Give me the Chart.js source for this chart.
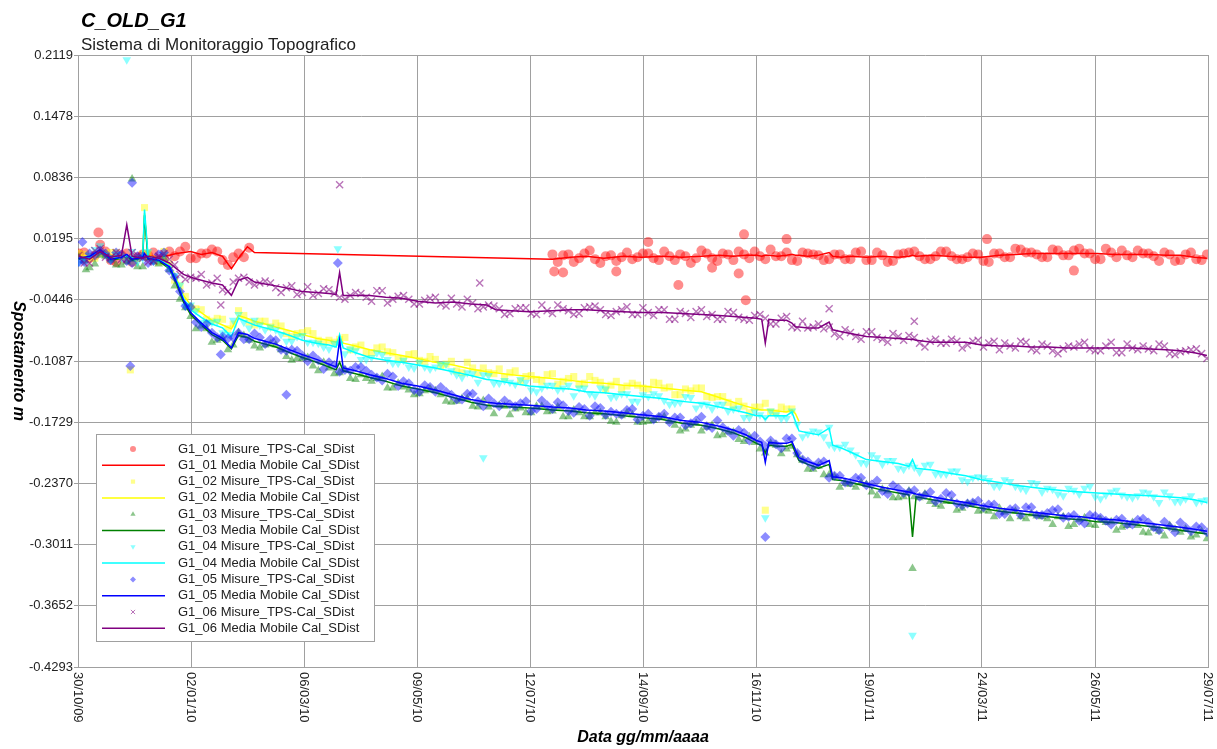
<!DOCTYPE html>
<html>
<head>
<meta charset="utf-8">
<title>C_OLD_G1</title>
<script src="https://cdn.jsdelivr.net/npm/chart.js@4.4.0/dist/chart.umd.min.js"></script>
<style>
  html, body { margin: 0; padding: 0; background: #fff; }
  canvas { display: block; }
</style>
</head>
<body>
<canvas id="grafico" width="1217" height="749"></canvas>
<script>
var titolo = 'C_OLD_G1';
var sottotitolo = 'Sistema di Monitoraggio Topografico';
var titoloAsseY = 'Spostamento m';
var titoloAsseX = 'Data gg/mm/aaaa';

// giorno 0 = 30/10/09
var dataInizio = Date.UTC(2009, 9, 30);
var giornoMin = 0.5, giornoMax = 637.6;

var etichetteY = ['-0.4293', '-0.3652', '-0.3011', '-0.2370', '-0.1729', '-0.1087',
                  '-0.0446', '0.0195', '0.0836', '0.1478', '0.2119'];

// media mobile (giorni dall'inizio)
var giorniMedia = [1, 7, 13, 19, 25, 28, 31, 37, 38, 40,
  46, 52, 56, 60, 64, 70, 76, 82, 87, 91,
  96, 100, 106, 112, 120, 127, 135, 142, 146, 148,
  150, 157, 165, 174, 183, 192, 202, 212, 222, 231,
  236, 245, 255, 268, 278, 287, 297, 308, 318, 330,
  341, 352, 362, 370, 377, 383, 386, 388, 390, 395,
  400, 403, 405, 407, 412, 418, 424, 426, 431, 436,
  445, 454, 463, 469, 471, 473, 482, 491, 501, 510,
  520, 529, 538, 548, 558, 566, 575, 585, 595, 605,
  614, 622, 630, 637];

var media01 = [0.001, -0.001, 0.008, 0.002, 0.000, 0.002, -0.001, 0.001, 0.000, 0.002,
  0.000, 0.002, 0.004, 0.005, 0.006, 0.003, 0.005, 0.001, -0.012, -0.001,
  0.011, 0.005, null, null, null, null, null, null, null, null,
  null, null, null, null, null, null, null, null, null, null,
  null, null, null, -0.002, 0.000, 0.001, -0.001, 0.001, 0.000, 0.001,
  0.000, 0.001, 0.002, 0.001, 0.002, 0.002, 0.001, 0.002, 0.002, 0.001,
  0.002, 0.003, 0.002, 0.002, 0.001, 0.002, 0.005, 0.001, 0.000, 0.001,
  0.000, 0.001, 0.000, 0.001, 0.002, 0.001, 0.002, 0.001, 0.000, 0.000,
  0.002, 0.003, 0.004, 0.004, 0.004, 0.004, 0.004, 0.003, 0.003, 0.003,
  0.002, 0.002, 0.000, -0.001];

var media02 = [0.000, 0.002, 0.007, -0.001, 0.001, 0.000, -0.002, 0.001, 0.046, 0.000,
  -0.001, -0.008, -0.022, -0.040, -0.050, -0.058, -0.066, -0.071, -0.075, -0.061,
  -0.064, -0.067, -0.070, -0.073, -0.077, -0.081, -0.085, -0.087, -0.089, -0.085,
  -0.090, -0.093, -0.097, -0.100, -0.103, -0.106, -0.110, -0.113, -0.117, -0.120,
  -0.121, -0.123, -0.125, -0.127, -0.129, -0.131, -0.132, -0.134, -0.135, -0.137,
  -0.139, -0.141, -0.147, -0.152, -0.156, -0.159, -0.160, -0.160, -0.160, -0.161,
  -0.162, -0.160, -0.164, -0.172, null, null, null, null, null, null,
  null, null, null, null, null, null, null, null, null, null,
  null, null, null, null, null, null, null, null, null, null,
  null, null, null, null];

var media03 = [-0.002, 0.000, 0.006, -0.003, -0.001, 0.001, -0.003, -0.001, 0.044, -0.002,
  -0.004, -0.012, -0.028, -0.047, -0.060, -0.071, -0.081, -0.087, -0.096, -0.082,
  -0.084, -0.088, -0.091, -0.094, -0.100, -0.105, -0.110, -0.115, -0.118, -0.110,
  -0.119, -0.122, -0.126, -0.130, -0.135, -0.138, -0.142, -0.147, -0.152, -0.155,
  -0.156, -0.157, -0.158, -0.160, -0.161, -0.163, -0.164, -0.166, -0.168, -0.170,
  -0.174, -0.176, -0.180, -0.184, -0.189, -0.195, -0.197, -0.205, -0.197, -0.198,
  -0.198, -0.196, -0.205, -0.213, -0.217, -0.221, -0.217, -0.233, -0.234, -0.236,
  -0.240, -0.244, -0.247, -0.249, -0.293, -0.251, -0.254, -0.257, -0.260, -0.263,
  -0.266, -0.268, -0.270, -0.272, -0.274, -0.275, -0.277, -0.278, -0.280, -0.282,
  -0.284, -0.286, -0.288, -0.290];

var media04 = [0.000, -0.001, 0.008, 0.001, -0.001, 0.002, 0.000, 0.002, 0.050, 0.001,
  -0.002, -0.009, -0.024, -0.043, -0.055, -0.063, -0.070, -0.074, -0.083, -0.064,
  -0.068, -0.071, -0.074, -0.077, -0.082, -0.087, -0.090, -0.092, -0.094, -0.081,
  -0.095, -0.100, -0.105, -0.108, -0.110, -0.113, -0.116, -0.120, -0.124, -0.128,
  -0.129, -0.132, -0.135, -0.137, -0.138, -0.141, -0.142, -0.144, -0.146, -0.148,
  -0.151, -0.153, -0.157, -0.160, -0.163, -0.166, -0.166, -0.170, -0.166, -0.166,
  -0.166, -0.162, -0.172, -0.182, -0.184, -0.186, -0.179, -0.197, -0.200, -0.204,
  -0.212, -0.214, -0.216, -0.219, -0.212, -0.221, -0.223, -0.226, -0.229, -0.233,
  -0.236, -0.239, -0.241, -0.243, -0.245, -0.246, -0.247, -0.248, -0.249, -0.250,
  -0.251, -0.252, -0.254, -0.257];

var media05 = [-0.001, 0.001, 0.008, -0.002, 0.000, 0.003, -0.002, 0.000, 0.004, -0.001,
  -0.003, -0.010, -0.026, -0.045, -0.058, -0.069, -0.079, -0.085, -0.095, -0.079,
  -0.081, -0.085, -0.088, -0.091, -0.097, -0.102, -0.107, -0.112, -0.115, -0.087,
  -0.116, -0.119, -0.123, -0.127, -0.132, -0.135, -0.139, -0.144, -0.149, -0.152,
  -0.153, -0.154, -0.155, -0.157, -0.158, -0.160, -0.161, -0.163, -0.165, -0.167,
  -0.171, -0.173, -0.177, -0.181, -0.186, -0.192, -0.194, -0.215, -0.194, -0.195,
  -0.195, -0.193, -0.202, -0.210, -0.214, -0.218, -0.213, -0.230, -0.231, -0.233,
  -0.237, -0.241, -0.244, -0.246, -0.247, -0.248, -0.251, -0.254, -0.257, -0.260,
  -0.263, -0.265, -0.267, -0.269, -0.271, -0.272, -0.274, -0.275, -0.277, -0.279,
  -0.281, -0.283, -0.285, -0.287];

var media06 = [0.001, -0.002, 0.006, 0.000, 0.002, 0.034, 0.001, -0.001, 0.000, 0.001,
  -0.001, -0.006, -0.012, -0.018, -0.021, -0.024, -0.027, -0.029, -0.040, -0.024,
  -0.021, -0.026, -0.028, -0.030, -0.033, -0.036, -0.037, -0.038, -0.039, -0.016,
  -0.040, -0.040, -0.040, -0.042, -0.043, -0.046, -0.048, -0.047, -0.049, -0.050,
  -0.055, -0.056, -0.057, -0.056, -0.055, -0.055, -0.056, -0.057, -0.058, -0.058,
  -0.059, -0.060, -0.061, -0.062, -0.063, -0.064, -0.065, -0.090, -0.065, -0.066,
  -0.066, -0.069, -0.073, -0.073, -0.074, -0.074, -0.068, -0.076, -0.078, -0.080,
  -0.083, -0.084, -0.085, -0.086, -0.086, -0.087, -0.089, -0.089, -0.089, -0.092,
  -0.093, -0.093, -0.094, -0.094, -0.095, -0.095, -0.095, -0.095, -0.095, -0.096,
  -0.097, -0.098, -0.100, -0.103];

// misure TPS, prima serie di giorni
var giorniMisure = [1, 7, 13, 19, 25, 31, 37, 43, 49, 55,
  61, 67, 73, 79, 85, 91, 97, 103, 109, 115,
  121, 127, 133, 139, 145, 151, 157, 163, 169, 175,
  181, 187, 193, 199, 205, 211, 217, 223, 229, 235,
  241, 247, 253, 259, 265, 271, 277, 283, 289, 295,
  301, 307, 313, 319, 325, 331, 337, 343, 349, 355,
  361, 367, 373, 379, 385, 391, 397, 403, 409, 415,
  421, 427, 433, 439, 445, 451, 457, 463, 469, 475,
  481, 487, 493, 499, 505, 511, 517, 523, 529, 535,
  541, 547, 553, 559, 565, 571, 577, 583, 589, 595,
  601, 607, 613, 619, 625, 631, 637];

var misure01 = [0.004, -0.001, 0.013, -0.003, 0.002, -0.005, 0.003, 0.005, 0.000, 0.001,
  0.011, -0.001, 0.004, 0.006, -0.008, 0.004, 0.010, null, null, null,
  null, null, null, null, null, null, null, null, null, null,
  null, null, null, null, null, null, null, null, null, null,
  null, null, null, null, null, -0.005, 0.003, -0.001, 0.007, -0.006,
  0.002, 0.000, -0.002, 0.004, -0.001, 0.006, -0.003, 0.001, -0.001, 0.004,
  -0.004, 0.003, 0.006, -0.001, 0.001, 0.008, 0.001, -0.003, 0.005, 0.003,
  -0.003, 0.003, -0.002, 0.005, -0.003, 0.005, -0.005, 0.003, 0.005, 0.001,
  -0.002, 0.006, 0.001, -0.002, 0.004, -0.004, 0.004, 0.000, 0.009, 0.005,
  0.003, 0.000, 0.007, 0.002, 0.009, 0.004, -0.002, 0.005, 0.007, 0.000,
  0.004, 0.001, 0.005, -0.004, 0.003, -0.002, 0.003];

var misure02 = [0.004, -0.001, 0.004, 0.005, 0.001, -0.004, 0.003, -0.002, 0.006, -0.024,
  -0.041, -0.054, -0.065, -0.064, -0.075, -0.056, -0.068, -0.067, -0.073, -0.072,
  -0.083, -0.079, -0.080, -0.089, -0.089, -0.084, -0.094, -0.100, -0.095, -0.099,
  -0.107, -0.102, -0.108, -0.104, -0.114, -0.109, -0.121, -0.116, -0.116, -0.122,
  -0.126, -0.119, -0.125, -0.128, -0.123, -0.133, -0.127, -0.133, -0.125, -0.131,
  -0.134, -0.138, -0.132, -0.137, -0.131, -0.137, -0.144, -0.138, -0.137, -0.146,
  -0.146, -0.152, -0.151, -0.163, -0.157, -0.162, -0.157, -0.159, null, null,
  null, null, null, null, null, null, null, null, null, null,
  null, null, null, null, null, null, null, null, null, null,
  null, null, null, null, null, null, null, null, null, null,
  null, null, null, null, null, null, null];

var misure03 = [0.000, -0.011, 0.002, -0.003, -0.008, -0.002, -0.010, -0.005, -0.001, -0.030,
  -0.053, -0.075, -0.075, -0.087, -0.097, -0.079, -0.087, -0.095, -0.091, -0.097,
  -0.108, -0.106, -0.114, -0.110, -0.122, -0.118, -0.128, -0.127, -0.127, -0.137,
  -0.132, -0.139, -0.143, -0.138, -0.144, -0.152, -0.148, -0.156, -0.150, -0.164,
  -0.156, -0.159, -0.163, -0.156, -0.162, -0.157, -0.167, -0.163, -0.167, -0.163,
  -0.172, -0.166, -0.165, -0.173, -0.171, -0.167, -0.176, -0.180, -0.174, -0.178,
  -0.187, -0.183, -0.191, -0.188, -0.201, -0.195, -0.206, -0.198, -0.213, -0.222,
  -0.228, -0.230, -0.237, -0.241, -0.238, -0.250, -0.245, -0.252, -0.245, -0.252,
  -0.256, -0.261, -0.256, -0.263, -0.258, -0.265, -0.272, -0.267, -0.266, -0.274,
  -0.271, -0.274, -0.272, -0.282, -0.275, -0.280, -0.275, -0.277, -0.283, -0.278,
  -0.288, -0.284, -0.292, -0.285, -0.285, -0.291, -0.295];

var misure04 = [-0.005, 0.002, 0.012, -0.003, 0.000, 0.006, -0.001, -0.004, 0.003, -0.019,
  -0.051, -0.056, -0.068, -0.067, -0.081, -0.060, -0.074, -0.071, -0.073, -0.081,
  -0.088, -0.082, -0.089, -0.094, -0.090, -0.101, -0.098, -0.107, -0.100, -0.107,
  -0.111, -0.115, -0.110, -0.117, -0.112, -0.119, -0.126, -0.122, -0.123, -0.132,
  -0.129, -0.133, -0.131, -0.141, -0.134, -0.139, -0.134, -0.137, -0.143, -0.137,
  -0.147, -0.143, -0.151, -0.144, -0.143, -0.150, -0.153, -0.146, -0.158, -0.154,
  -0.154, -0.161, -0.158, -0.168, -0.165, -0.161, -0.169, -0.161, -0.188, -0.182,
  -0.188, -0.199, -0.196, -0.207, -0.216, -0.210, -0.213, -0.221, -0.218, -0.225,
  -0.217, -0.227, -0.224, -0.233, -0.231, -0.231, -0.240, -0.233, -0.240, -0.244,
  -0.237, -0.242, -0.248, -0.242, -0.248, -0.240, -0.253, -0.246, -0.249, -0.252,
  -0.246, -0.251, -0.246, -0.256, -0.253, -0.257, -0.254];

var misure05 = [-0.005, 0.004, 0.007, -0.003, 0.003, -0.006, 0.001, -0.004, 0.005, -0.021,
  -0.051, -0.068, -0.070, -0.084, -0.085, -0.079, -0.086, -0.084, -0.086, -0.097,
  -0.097, -0.103, -0.103, -0.117, -0.113, -0.118, -0.115, -0.119, -0.126, -0.122,
  -0.135, -0.132, -0.141, -0.136, -0.136, -0.144, -0.149, -0.143, -0.156, -0.153,
  -0.150, -0.156, -0.151, -0.159, -0.155, -0.152, -0.161, -0.157, -0.166, -0.158,
  -0.162, -0.165, -0.159, -0.166, -0.170, -0.164, -0.168, -0.176, -0.171, -0.177,
  -0.171, -0.182, -0.181, -0.192, -0.193, -0.192, -0.200, -0.190, -0.212, -0.219,
  -0.214, -0.229, -0.236, -0.231, -0.239, -0.234, -0.248, -0.242, -0.246, -0.251,
  -0.246, -0.253, -0.249, -0.260, -0.257, -0.262, -0.259, -0.269, -0.263, -0.262,
  -0.270, -0.268, -0.264, -0.272, -0.276, -0.270, -0.273, -0.280, -0.274, -0.280,
  -0.274, -0.283, -0.277, -0.288, -0.283, -0.282, -0.288];

var misure06 = [0.002, -0.006, 0.009, 0.000, -0.002, 0.005, -0.001, -0.004, 0.004, -0.008,
  -0.023, -0.022, -0.029, -0.022, -0.036, -0.022, -0.026, -0.027, -0.027, -0.037,
  -0.030, -0.037, -0.040, -0.033, -0.038, -0.044, -0.037, -0.042, -0.035, -0.048,
  -0.041, -0.044, -0.049, -0.043, -0.049, -0.043, -0.052, -0.048, -0.052, -0.051,
  -0.060, -0.054, -0.053, -0.060, -0.056, -0.050, -0.056, -0.059, -0.052, -0.055,
  -0.061, -0.055, -0.060, -0.053, -0.061, -0.055, -0.065, -0.059, -0.057, -0.062,
  -0.065, -0.057, -0.063, -0.066, -0.060, -0.070, -0.064, -0.073, -0.067, -0.073,
  -0.075, -0.080, -0.076, -0.083, -0.078, -0.084, -0.089, -0.083, -0.082, -0.090,
  -0.088, -0.090, -0.086, -0.095, -0.088, -0.094, -0.088, -0.090, -0.095, -0.089,
  -0.098, -0.093, -0.101, -0.093, -0.091, -0.096, -0.098, -0.089, -0.100, -0.095,
  -0.093, -0.098, -0.093, -0.102, -0.098, -0.096, -0.106];

// misure TPS, seconda serie di giorni
var giorniMisureB = [4, 10, 16, 22, 28, 34, 40, 46, 52, 58,
  64, 70, 76, 82, 88, 94, 100, 106, 112, 118,
  124, 130, 136, 142, 148, 154, 160, 166, 172, 178,
  184, 190, 196, 202, 208, 214, 220, 226, 232, 238,
  244, 250, 256, 262, 268, 274, 280, 286, 292, 298,
  304, 310, 316, 322, 328, 334, 340, 346, 352, 358,
  364, 370, 376, 382, 388, 394, 400, 406, 412, 418,
  424, 430, 436, 442, 448, 454, 460, 466, 472, 478,
  484, 490, 496, 502, 508, 514, 520, 526, 532, 538,
  544, 550, 556, 562, 568, 574, 580, 586, 592, 598,
  604, 610, 616, 622, 628, 634];

var misure01b = [0.005, 0.002, 0.006, -0.005, 0.004, 0.000, 0.002, -0.002, 0.006, 0.006,
  -0.001, 0.004, 0.008, -0.003, 0.000, 0.000, null, null, null, null,
  null, null, null, null, null, null, null, null, null, null,
  null, null, null, null, null, null, null, null, null, null,
  null, null, null, null, 0.003, 0.002, -0.005, 0.004, -0.002, 0.001,
  -0.004, 0.005, 0.000, 0.004, -0.003, 0.001, 0.003, -0.006, 0.007, -0.001,
  0.004, -0.003, 0.003, 0.006, -0.002, 0.001, 0.005, -0.004, 0.004, 0.002,
  -0.002, 0.003, -0.002, 0.006, -0.003, 0.002, -0.004, 0.004, 0.006, -0.002,
  0.001, 0.006, -0.002, 0.000, 0.003, -0.005, 0.004, 0.000, 0.008, 0.005,
  0.000, 0.008, 0.002, 0.007, 0.004, -0.002, 0.009, 0.000, 0.002, 0.007,
  0.004, -0.004, 0.003, -0.003, 0.005, -0.003];

var misure02b = [0.003, -0.001, 0.004, 0.005, -0.003, -0.001, 0.004, -0.005, -0.007, -0.030,
  -0.052, -0.055, -0.067, -0.065, -0.070, -0.061, -0.071, -0.067, -0.069, -0.080,
  -0.080, -0.077, -0.087, -0.087, -0.086, -0.097, -0.092, -0.100, -0.094, -0.100,
  -0.107, -0.101, -0.109, -0.107, -0.112, -0.119, -0.110, -0.121, -0.121, -0.117,
  -0.121, -0.130, -0.124, -0.130, -0.122, -0.130, -0.125, -0.132, -0.129, -0.138,
  -0.130, -0.135, -0.134, -0.138, -0.132, -0.136, -0.144, -0.140, -0.137, -0.147,
  -0.146, -0.156, -0.156, -0.157, -0.153, -0.163, -0.159, null, null, null,
  null, null, null, null, null, null, null, null, null, null,
  null, null, null, null, null, null, null, null, null, null,
  null, null, null, null, null, null, null, null, null, null,
  null, null, null, null, null, null];

var misure03b = [-0.004, -0.007, 0.001, -0.008, -0.005, -0.010, -0.001, -0.007, -0.013, -0.044,
  -0.062, -0.072, -0.089, -0.085, -0.092, -0.082, -0.093, -0.092, -0.092, -0.104,
  -0.106, -0.105, -0.119, -0.116, -0.121, -0.127, -0.123, -0.130, -0.125, -0.137,
  -0.136, -0.144, -0.140, -0.140, -0.151, -0.151, -0.148, -0.157, -0.157, -0.155,
  -0.165, -0.158, -0.163, -0.156, -0.161, -0.167, -0.160, -0.167, -0.163, -0.167,
  -0.173, -0.163, -0.173, -0.172, -0.168, -0.172, -0.182, -0.176, -0.182, -0.176,
  -0.186, -0.183, -0.193, -0.194, -0.205, -0.197, -0.201, -0.207, -0.222, -0.219,
  -0.228, -0.241, -0.238, -0.236, -0.246, -0.243, -0.252, -0.251, -0.251, -0.248,
  -0.259, -0.256, -0.265, -0.258, -0.266, -0.266, -0.263, -0.274, -0.272, -0.269,
  -0.272, -0.280, -0.272, -0.280, -0.273, -0.281, -0.278, -0.286, -0.281, -0.281,
  -0.289, -0.287, -0.281, -0.288, -0.293, -0.287];

var misure04b = [-0.004, 0.008, 0.002, 0.003, 0.000, -0.005, 0.006, -0.003, -0.011, -0.029,
  -0.050, -0.068, -0.068, -0.079, -0.066, -0.068, -0.066, -0.076, -0.076, -0.088,
  -0.083, -0.089, -0.090, -0.096, -0.091, -0.096, -0.107, -0.105, -0.102, -0.111,
  -0.108, -0.116, -0.115, -0.115, -0.112, -0.123, -0.121, -0.131, -0.124, -0.132,
  -0.131, -0.128, -0.139, -0.137, -0.134, -0.137, -0.145, -0.137, -0.145, -0.138,
  -0.146, -0.143, -0.151, -0.146, -0.145, -0.154, -0.152, -0.147, -0.154, -0.159,
  -0.154, -0.159, -0.168, -0.162, -0.168, -0.165, -0.169, -0.175, -0.185, -0.183,
  -0.196, -0.199, -0.202, -0.215, -0.207, -0.217, -0.213, -0.222, -0.220, -0.218,
  -0.227, -0.227, -0.224, -0.235, -0.230, -0.234, -0.240, -0.235, -0.242, -0.236,
  -0.246, -0.243, -0.250, -0.244, -0.242, -0.251, -0.249, -0.244, -0.251, -0.250,
  -0.247, -0.257, -0.250, -0.256, -0.250, -0.255];

var misure05b = [-0.005, 0.002, 0.004, 0.005, -0.004, 0.001, -0.006, 0.003, -0.014, -0.036,
  -0.052, -0.073, -0.079, -0.083, -0.084, -0.086, -0.080, -0.091, -0.087, -0.098,
  -0.098, -0.109, -0.108, -0.110, -0.120, -0.119, -0.115, -0.123, -0.129, -0.125,
  -0.130, -0.139, -0.134, -0.141, -0.141, -0.149, -0.143, -0.151, -0.148, -0.156,
  -0.154, -0.153, -0.161, -0.150, -0.159, -0.155, -0.163, -0.159, -0.156, -0.165,
  -0.164, -0.160, -0.170, -0.164, -0.167, -0.173, -0.168, -0.174, -0.167, -0.179,
  -0.178, -0.187, -0.184, -0.187, -0.198, -0.196, -0.190, -0.205, -0.214, -0.215,
  -0.231, -0.229, -0.236, -0.231, -0.238, -0.245, -0.239, -0.247, -0.244, -0.249,
  -0.256, -0.247, -0.258, -0.258, -0.255, -0.259, -0.269, -0.264, -0.270, -0.262,
  -0.270, -0.265, -0.273, -0.270, -0.279, -0.271, -0.276, -0.275, -0.280, -0.275,
  -0.278, -0.286, -0.282, -0.278, -0.287, -0.283];

var misure06b = [-0.006, 0.007, 0.000, 0.005, -0.002, 0.002, -0.005, 0.001, -0.002, -0.018,
  -0.021, -0.018, -0.027, -0.034, -0.026, -0.021, -0.029, -0.025, -0.032, -0.032,
  -0.039, -0.031, -0.038, -0.034, -0.042, -0.040, -0.038, -0.046, -0.035, -0.044,
  -0.040, -0.049, -0.045, -0.042, -0.051, -0.049, -0.044, -0.054, -0.050, -0.054,
  -0.059, -0.053, -0.059, -0.050, -0.059, -0.054, -0.060, -0.053, -0.051, -0.060,
  -0.057, -0.052, -0.060, -0.058, -0.055, -0.065, -0.057, -0.063, -0.055, -0.060,
  -0.065, -0.058, -0.065, -0.061, -0.064, -0.070, -0.062, -0.074, -0.074, -0.070,
  -0.073, -0.083, -0.079, -0.086, -0.078, -0.086, -0.080, -0.087, -0.084, -0.094,
  -0.086, -0.090, -0.088, -0.092, -0.087, -0.090, -0.097, -0.093, -0.088, -0.096,
  -0.091, -0.098, -0.096, -0.094, -0.089, -0.098, -0.093, -0.100, -0.091, -0.097,
  -0.096, -0.091, -0.101, -0.099, -0.097, -0.101];

// misure isolate [giorno, valore]
var anomalie01 = [[12, 0.026], [269, -0.015], [274, -0.016], [304, -0.015], [322, 0.016],
  [339, -0.029], [358, -0.011], [373, -0.017], [376, 0.024], [377, -0.045],
  [400, 0.019], [513, 0.019], [562, -0.014]];
var anomalie02 = [[30, -0.118], [38, 0.052], [388, -0.265]];
var anomalie03 = [[5, -0.013], [31, 0.082], [471, -0.326]];
var anomalie04 = [[28, 0.207], [147, 0.009], [229, -0.210], [388, -0.273], [424, -0.178], [471, -0.396]];
var anomalie05 = [[3, 0.016], [30, -0.114], [31, 0.078], [81, -0.102], [118, -0.144], [147, -0.006], [388, -0.293]];
var anomalie06 = [[81, -0.050], [148, 0.076], [227, -0.027], [424, -0.054], [472, -0.067]];

var nomiPunti = ['G1_01', 'G1_02', 'G1_03', 'G1_04', 'G1_05', 'G1_06'];
var coloriSerie = ['255, 0, 0', '255, 255, 0', '0, 128, 0', '0, 255, 255', '0, 0, 255', '128, 0, 128'];
var stiliPunto = ['circle', 'rect', 'triangle', 'triangle', 'rectRot', 'crossRot'];
var rotazioniPunto = [0, 0, 0, 180, 0, 0];
var tutteMisure = [misure01, misure02, misure03, misure04, misure05, misure06];
var tutteMisureB = [misure01b, misure02b, misure03b, misure04b, misure05b, misure06b];
var tutteAnomalie = [anomalie01, anomalie02, anomalie03, anomalie04, anomalie05, anomalie06];
var tutteMedie = [media01, media02, media03, media04, media05, media06];

var FONT = '"Liberation Sans", Arial, sans-serif';

function etichettaData(giorno) {
    var d = new Date(dataInizio + giorno * 86400000);
    var gg = ('0' + d.getUTCDate()).slice(-2);
    var mm = ('0' + (d.getUTCMonth() + 1)).slice(-2);
    var aa = ('' + d.getUTCFullYear()).slice(-2);
    return gg + '/' + mm + '/' + aa;
}

function aggiungiPunti(punti, giorni, valori) {
    for (var i = 0; i < giorni.length; i++) {
        if (valori[i] !== null) punti.push({x: giorni[i], y: valori[i]});
    }
}

function puntiMisure(s) {
    var punti = [];
    aggiungiPunti(punti, giorniMisure, tutteMisure[s]);
    aggiungiPunti(punti, giorniMisureB, tutteMisureB[s]);
    var anomalie = tutteAnomalie[s];
    for (var j = 0; j < anomalie.length; j++) {
        punti.push({x: anomalie[j][0], y: anomalie[j][1]});
    }
    return punti;
}

function puntiMedia(valori) {
    var punti = [];
    for (var i = 0; i < giorniMedia.length; i++) {
        punti.push({x: giorniMedia[i], y: valori[i]});
    }
    return punti;
}

var datasets = [];
for (var s = 0; s < nomiPunti.length; s++) {
    var c = coloriSerie[s];
    datasets.push({
        label: nomiPunti[s] + ' Misure_TPS-Cal_SDist',
        data: puntiMisure(s),
        showLine: false,
        pointStyle: stiliPunto[s],
        pointRotation: rotazioniPunto[s],
        pointRadius: 5,
        backgroundColor: 'rgba(' + c + ', 0.45)',
        borderColor: 'rgba(' + c + ', 0.55)',
        pointBorderWidth: stiliPunto[s] === 'crossRot' ? 1.4 : 0,
        order: 12 - datasets.length
    });
    datasets.push({
        label: nomiPunti[s] + ' Media Mobile Cal_SDist',
        data: puntiMedia(tutteMedie[s]),
        showLine: true,
        spanGaps: true,
        borderColor: 'rgb(' + c + ')',
        backgroundColor: 'rgb(' + c + ')',
        borderWidth: 1.5,
        pointRadius: 0,
        tension: 0,
        order: 12 - datasets.length
    });
}

// titoli, etichette date ruotate e legenda dentro il grafico
var pluginTesti = {
    id: 'testi',
    afterDraw: function (chart) {
        var ctx = chart.ctx;
        var area = chart.chartArea;
        ctx.save();
        ctx.textAlign = 'left';
        ctx.textBaseline = 'alphabetic';
        ctx.fillStyle = '#000';
        ctx.font = 'italic bold 20px ' + FONT;
        ctx.fillText(titolo, 81, 27);
        ctx.fillStyle = '#222';
        ctx.font = '17px ' + FONT;
        ctx.fillText(sottotitolo, 81, 50);

        var scalaX = chart.scales.x;
        ctx.font = '13px ' + FONT;
        ctx.textBaseline = 'middle';
        scalaX.ticks.forEach(function (t) {
            var px = scalaX.getPixelForValue(t.value);
            ctx.save();
            ctx.translate(px, area.bottom + 5);
            ctx.rotate(Math.PI / 2);
            ctx.fillText(etichettaData(t.value), 0, 0);
            ctx.restore();
        });

        ctx.fillStyle = '#000';
        ctx.font = 'italic bold 16px ' + FONT;
        ctx.textAlign = 'center';
        ctx.fillText(titoloAsseX, (area.left + area.right) / 2, 738);
        ctx.save();
        ctx.translate(18, (area.top + area.bottom) / 2);
        ctx.rotate(Math.PI / 2);
        ctx.fillText(titoloAsseY, 0, 0);
        ctx.restore();

        // legenda
        var lx = 96, ly = 434, lw = 278, lh = 207;
        ctx.fillStyle = '#fff';
        ctx.fillRect(lx, ly, lw, lh);
        ctx.strokeStyle = '#a0a0a0';
        ctx.lineWidth = 1;
        ctx.strokeRect(lx + 0.5, ly + 0.5, lw, lh);
        ctx.font = '13px ' + FONT;
        ctx.textAlign = 'left';
        chart.data.datasets.forEach(function (ds, i) {
            var y = ly + 15 + i * 16.3;
            if (ds.showLine) {
                ctx.strokeStyle = ds.borderColor;
                ctx.lineWidth = 1.5;
                ctx.beginPath();
                ctx.moveTo(102, y);
                ctx.lineTo(165, y);
                ctx.stroke();
            } else {
                ctx.fillStyle = ds.backgroundColor;
                ctx.strokeStyle = ds.borderColor;
                ctx.lineWidth = 1;
                Chart.helpers.drawPoint(ctx, {
                    pointStyle: ds.pointStyle,
                    rotation: ds.pointRotation,
                    radius: 3,
                    borderWidth: ds.pointBorderWidth
                }, 133, y);
            }
            ctx.fillStyle = '#222';
            ctx.fillText(ds.label, 178, y);
        });
        ctx.restore();
    }
};

new Chart(document.getElementById('grafico').getContext('2d'), {
    type: 'scatter',
    data: { datasets: datasets },
    options: {
        responsive: false,
        devicePixelRatio: 1,
        animation: false,
        events: [],
        layout: { padding: { top: 55, right: 9, bottom: 0, left: 0 } },
        plugins: {
            legend: { display: false },
            title: { display: false },
            tooltip: { enabled: false }
        },
        scales: {
            x: {
                type: 'linear',
                min: giornoMin,
                max: giornoMax,
                afterBuildTicks: function (scale) {
                    var t = [];
                    for (var i = 0; i <= 10; i++) t.push({ value: giornoMin + i * (giornoMax - giornoMin) / 10 });
                    scale.ticks = t;
                },
                afterFit: function (scale) { scale.height = 82; },
                ticks: { display: false },
                grid: { color: '#a0a0a0', drawTicks: false },
                border: { color: '#a0a0a0' }
            },
            y: {
                min: -0.4293,
                max: 0.2119,
                afterBuildTicks: function (scale) {
                    scale.ticks = etichetteY.map(function (e) { return { value: parseFloat(e) }; });
                },
                afterFit: function (scale) { scale.width = 78; },
                ticks: {
                    callback: function (v, i) { return etichetteY[i]; },
                    font: { family: FONT, size: 13 },
                    color: '#222',
                    padding: 1
                },
                grid: { color: '#a0a0a0', tickLength: 4 },
                border: { color: '#a0a0a0' }
            }
        }
    },
    plugins: [pluginTesti]
});
</script>
</body>
</html>
